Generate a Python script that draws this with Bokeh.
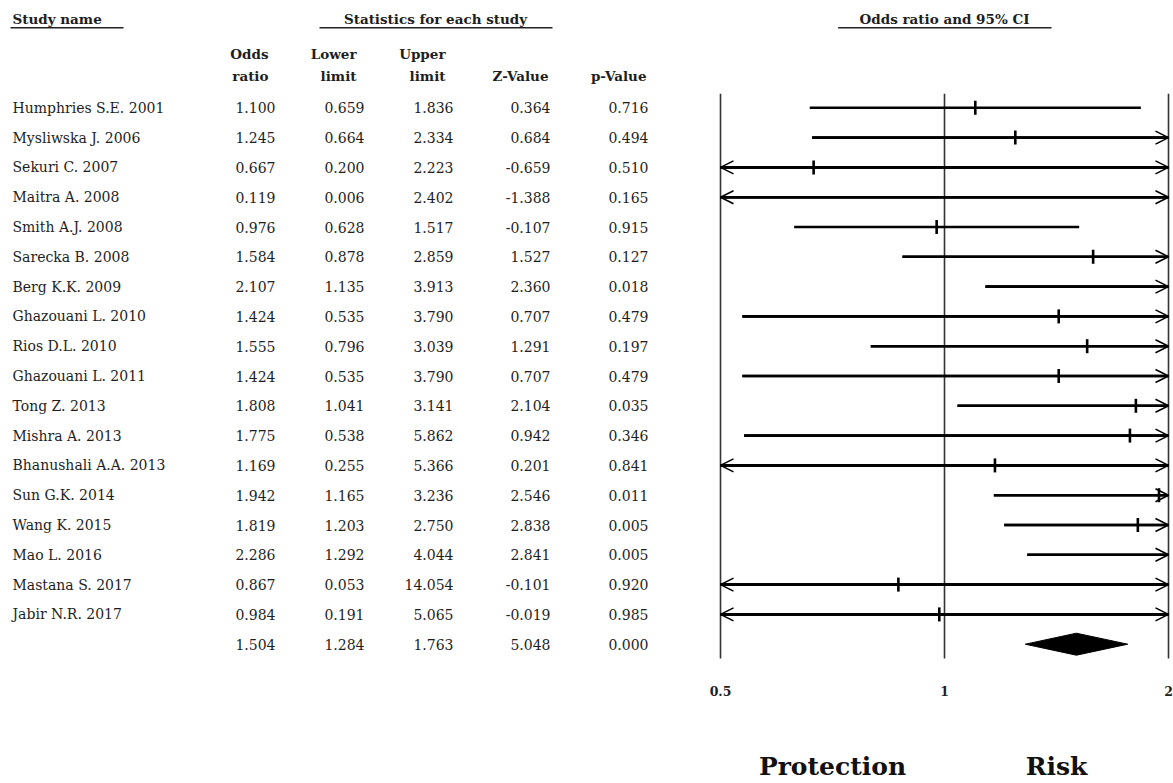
import math
from bokeh.plotting import figure
from bokeh.models import ColumnDataSource, Range1d, Arrow, OpenHead
from bokeh.layouts import row
from bokeh.core.properties import value
from bokeh.embed import file_html
from bokeh.resources import INLINE

# ---------------- data ----------------
names = ["Humphries S.E. 2001", "Mysliwska J. 2006", "Sekuri C. 2007", "Maitra A. 2008",
         "Smith A.J. 2008", "Sarecka B. 2008", "Berg K.K. 2009", "Ghazouani L. 2010",
         "Rios D.L. 2010", "Ghazouani L. 2011", "Tong Z. 2013", "Mishra A. 2013",
         "Bhanushali A.A. 2013", "Sun G.K. 2014", "Wang K. 2015", "Mao L. 2016",
         "Mastana S. 2017", "Jabir N.R. 2017"]
odds = [1.100, 1.245, 0.667, 0.119, 0.976, 1.584, 2.107, 1.424, 1.555, 1.424,
        1.808, 1.775, 1.169, 1.942, 1.819, 2.286, 0.867, 0.984]
lower = [0.659, 0.664, 0.200, 0.006, 0.628, 0.878, 1.135, 0.535, 0.796, 0.535,
         1.041, 0.538, 0.255, 1.165, 1.203, 1.292, 0.053, 0.191]
upper = [1.836, 2.334, 2.223, 2.402, 1.517, 2.859, 3.913, 3.790, 3.039, 3.790,
         3.141, 5.862, 5.366, 3.236, 2.750, 4.044, 14.054, 5.065]
zval = [0.364, 0.684, -0.659, -1.388, -0.107, 1.527, 2.360, 0.707, 1.291, 0.707,
        2.104, 0.942, 0.201, 2.546, 2.838, 2.841, -0.101, -0.019]
pval = [0.716, 0.494, 0.510, 0.165, 0.915, 0.127, 0.018, 0.479, 0.197, 0.479,
        0.035, 0.346, 0.841, 0.011, 0.005, 0.005, 0.920, 0.985]
summary_odds = 1.504
summary_lower = 1.284
summary_upper = 1.763
summary_z = 5.048
summary_p = 0.000

section_headers = ["Study name", "Statistics for each study", "Odds ratio and 95% CI"]
col_head_top = ["Odds", "Lower", "Upper", "", ""]
col_head_bottom = ["ratio", "limit", "limit", "Z-Value", "p-Value"]
tick_values = [0.5, 1, 2]
tick_labels = ["0.5", "1", "2"]
side_labels = ["Protection", "Risk"]

# ---------------- layout constants ----------------
TOTAL_H = 783
LEFT_W = 690
RIGHT_W = 483
ROW0 = 107.3      # screen y of first row
ROWH = 29.8       # row spacing in px


def rowv(page_y):
    return (page_y - ROW0) / ROWH


Y_TOP = rowv(0)
Y_BOT = rowv(TOTAL_H)
XMIN, XMAX = tick_values[0], tick_values[-1]
PX_PER_DBL = 224.0
x_lo = XMIN * 2 ** (-30 / PX_PER_DBL)
x_hi = XMAX * 2 ** (5 / PX_PER_DBL)

FONT = value("DejaVu Serif")
TXT = "#1e1e1e"

# ---------------- left: table ----------------
left = figure(width=LEFT_W, height=TOTAL_H, x_range=Range1d(0, LEFT_W),
              y_range=Range1d(Y_BOT, Y_TOP), output_backend="svg",
              toolbar_location=None, min_border=0,
              x_axis_location=None, y_axis_location=None)
left.grid.visible = False
left.outline_line_color = None

n = len(names)
rows = list(range(n))

left.text(x=[12] * n, y=rows, text=names, text_font=FONT, text_font_size="14px",
          text_color=TXT, text_align="left", text_baseline="middle")

col_right = [275, 364, 453, 550, 648]
columns = [odds + [summary_odds], lower + [summary_lower], upper + [summary_upper],
           zval + [summary_z], pval + [summary_p]]
for cx, vals in zip(col_right, columns):
    left.text(x=[cx] * len(vals), y=list(range(len(vals))),
              text=["%.3f" % v for v in vals], text_font=FONT, text_font_size="14px",
              text_color=TXT, text_align="right", text_baseline="middle")

head_right = [268, 356, 445, 548, 646]
left.text(x=head_right, y=[rowv(53.5)] * 5, text=col_head_top, text_font=FONT,
          text_font_style="bold", text_font_size="13.5px", text_color=TXT,
          text_align="right", text_baseline="middle")
left.text(x=head_right, y=[rowv(75)] * 5, text=col_head_bottom, text_font=FONT,
          text_font_style="bold", text_font_size="13.5px", text_color=TXT,
          text_align="right", text_baseline="middle")

left.text(x=[12], y=[rowv(18.3)], text=[section_headers[0]], text_font=FONT,
          text_font_style="bold", text_font_size="13.5px", text_color=TXT,
          text_align="left", text_baseline="middle")
left.text(x=[435], y=[rowv(18.3)], text=[section_headers[1]], text_font=FONT,
          text_font_style="bold", text_font_size="13.5px", text_color=TXT,
          text_align="center", text_baseline="middle")
left.segment(x0=[10, 319], y0=[rowv(27.3)] * 2, x1=[123, 552], y1=[rowv(27.3)] * 2,
             line_color="#222222", line_width=1.5)

# ---------------- right: forest plot ----------------
right = figure(width=RIGHT_W, height=TOTAL_H, x_axis_type="log",
               x_range=Range1d(x_lo, x_hi), y_range=Range1d(Y_BOT, Y_TOP),
               output_backend="svg", toolbar_location=None, min_border=0,
               x_axis_location=None, y_axis_location=None)
right.grid.visible = False
right.outline_line_color = None

# reference lines
right.segment(x0=tick_values, y0=[rowv(93.3)] * 3, x1=tick_values, y1=[rowv(658)] * 3,
              line_color="#333333", line_width=1.6)

# CI lines (clipped to the displayed range)
lo_c = [max(v, XMIN) for v in lower]
hi_c = [min(v, XMAX) for v in upper]
right.segment(x0=lo_c, y0=rows, x1=hi_c, y1=rows, line_color="black", line_width=2.6)

# arrow heads where CI leaves the range
r_idx = [i for i in rows if upper[i] > XMAX]
l_idx = [i for i in rows if lower[i] < XMIN]
src_r = ColumnDataSource(dict(xs=[lo_c[i] for i in r_idx], xe=[XMAX] * len(r_idx),
                              y=[float(i) for i in r_idx]))
src_l = ColumnDataSource(dict(xs=[hi_c[i] for i in l_idx], xe=[XMIN] * len(l_idx),
                              y=[float(i) for i in l_idx]))
for src in (src_r, src_l):
    right.add_layout(Arrow(end=OpenHead(size=13, line_width=1.6, line_color="black"),
                           x_start="xs", y_start="y", x_end="xe", y_end="y",
                           line_width=2.6, line_color="black", source=src))

# odds-ratio ticks (inside range only)
in_idx = [i for i in rows if XMIN <= odds[i] <= XMAX]
right.scatter(x=[odds[i] for i in in_idx], y=in_idx, marker="dash", angle=math.pi / 2,
              size=14, line_width=2.6, line_color="black")

# summary diamond
sy = n
hh = 11 / ROWH
right.patch(x=[summary_lower, summary_odds, summary_upper, summary_odds],
            y=[sy, sy - hh, sy, sy + hh], fill_color="black", line_color="black")

# header for the plot
right.text(x=[1], y=[rowv(18.3)], text=[section_headers[2]], text_font=FONT,
           text_font_style="bold", text_font_size="13.5px", text_color=TXT,
           text_align="center", text_baseline="middle")
right.segment(x0=[0.7196], y0=[rowv(27.3)], x1=[1.3926], y1=[rowv(27.3)],
              line_color="#222222", line_width=1.5)

# tick labels
right.text(x=tick_values, y=[rowv(690)] * 3, text=tick_labels, text_font=FONT,
           text_font_style="bold", text_font_size="12.5px", text_color=TXT,
           text_align="center", text_baseline="middle")

# Protection / Risk
right.text(x=[math.sqrt(XMIN), math.sqrt(XMAX)], y=[rowv(766)] * 2, text=side_labels,
           text_font=FONT, text_font_style="bold", text_font_size="25px",
           text_color="#111111", text_align="center", text_baseline="middle")

layout = row(left, right)
open("out.html", "w").write(file_html(layout, INLINE))
